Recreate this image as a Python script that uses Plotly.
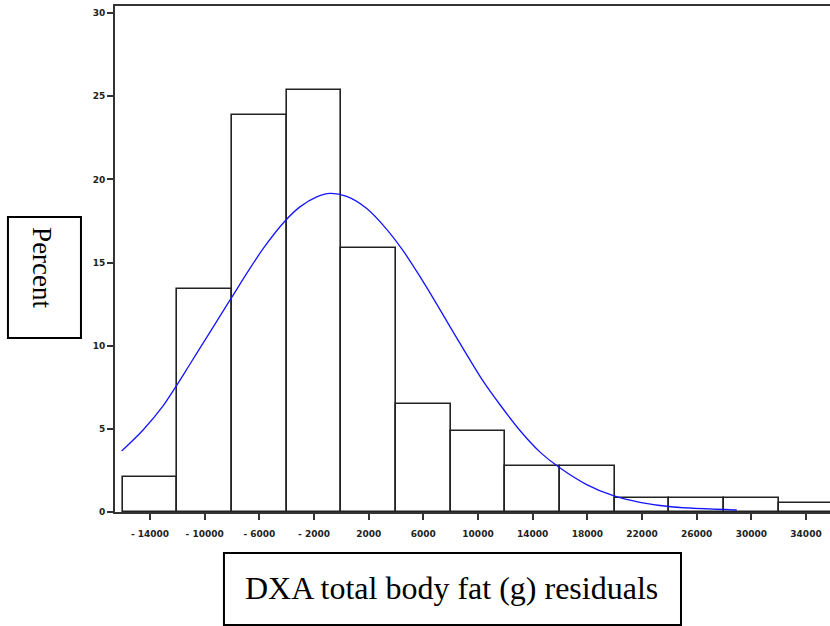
import plotly.graph_objects as go

# Histogram bins (centers, in g) and percent heights
bin_centers = [-14000, -10000, -6000, -2000, 2000, 6000, 10000, 14000, 18000, 22000, 26000, 30000, 34000]
percents = [2.1, 13.4, 23.9, 25.4, 15.9, 6.5, 4.9, 2.78, 2.78, 0.86, 0.86, 0.86, 0.52]
bin_width = 4000

# Fitted normal curve
curve_x = [-16070, -14490, -13030, -12100, -11070, -9850, -8640, -7950, -6920, -5710, -4120,
           -3030, -1800, -830, 390, 1860, 3320, 4530, 5760, 6980, 7950, 10390, 11610, 13070,
           14540, 15880, 17950, 19900, 21850, 24290, 28930]
curve_y = [3.67, 4.95, 6.4, 7.55, 8.9, 10.5, 12.1, 13.0, 14.35, 15.85, 17.5,
           18.35, 18.95, 19.16, 18.98, 18.25, 17.0, 15.7, 14.15, 12.5, 11.15, 7.85, 6.45, 4.9,
           3.6, 2.72, 1.65, 0.98, 0.58, 0.3, 0.12]

x_tick_vals = [-14000, -10000, -6000, -2000, 2000, 6000, 10000, 14000, 18000, 22000, 26000, 30000, 34000]
x_tick_text = ["- 14000", "- 10000", "- 6000", "- 2000", "2000", "6000", "10000", "14000",
               "18000", "22000", "26000", "30000", "34000"]
y_tick_vals = [0, 5, 10, 15, 20, 25, 30]

x_title = "DXA total body fat (g) residuals"
y_title = "Percent"

fig = go.Figure()
fig.add_trace(go.Bar(
    x=bin_centers, y=percents, width=bin_width,
    marker=dict(color="white", line=dict(color="#222222", width=1.6)),
    showlegend=False, hoverinfo="skip",
))
fig.add_trace(go.Scatter(
    x=curve_x, y=curve_y, mode="lines",
    line=dict(color="rgb(20,20,255)", width=1.3, shape="spline", smoothing=0.8),
    showlegend=False, hoverinfo="skip",
))

tick_font = dict(family="DejaVu Sans", size=9, color="#222222", weight="bold")
fig.update_layout(
    width=830, height=626,
    margin=dict(l=115, r=0, t=6, b=114, autoexpand=False),
    paper_bgcolor="white", plot_bgcolor="white",
    bargap=0,
    xaxis=dict(
        range=[-16561, 35756], tickmode="array", tickvals=x_tick_vals, ticktext=x_tick_text,
        ticks="outside", ticklen=6, tickwidth=1.5, tickcolor="#333333",
        showline=True, linecolor="#333333", linewidth=1.8, mirror=True,
        showgrid=False, zeroline=False, tickfont=tick_font, automargin=False,
        ticklabelstandoff=6,
    ),
    yaxis=dict(
        range=[0, 30.43], tickmode="array", tickvals=y_tick_vals,
        ticks="outside", ticklen=6, tickwidth=1.5, tickcolor="#333333",
        showline=True, linecolor="#333333", linewidth=1.8,
        showgrid=False, zeroline=False, tickfont=tick_font, automargin=False,
    ),
    shapes=[
        dict(type="rect", xref="paper", yref="paper", x0=-0.1497, x1=-0.0476, y0=0.3439, y1=0.583,
             line=dict(color="black", width=2), fillcolor="rgba(0,0,0,0)"),
        dict(type="rect", xref="paper", yref="paper", x0=0.1524, x1=0.7916, y0=-0.2233, y1=-0.081,
             line=dict(color="black", width=2), fillcolor="rgba(0,0,0,0)"),
    ],
    annotations=[
        dict(text=y_title, xref="paper", yref="paper", x=-0.1021, y=0.482, showarrow=False,
             textangle=90, xanchor="center", yanchor="middle",
             font=dict(family="Liberation Serif", size=27, color="black")),
        dict(text=x_title, xref="paper", yref="paper", x=0.4706, y=-0.150, showarrow=False,
             xanchor="center", yanchor="middle",
             font=dict(family="Liberation Serif", size=32, color="black")),
    ],
)

fig.write_html(
    "out.html",
    config={"displayModeBar": False},
    post_script="document.body.style.margin='0';document.body.style.overflow='hidden';",
)
